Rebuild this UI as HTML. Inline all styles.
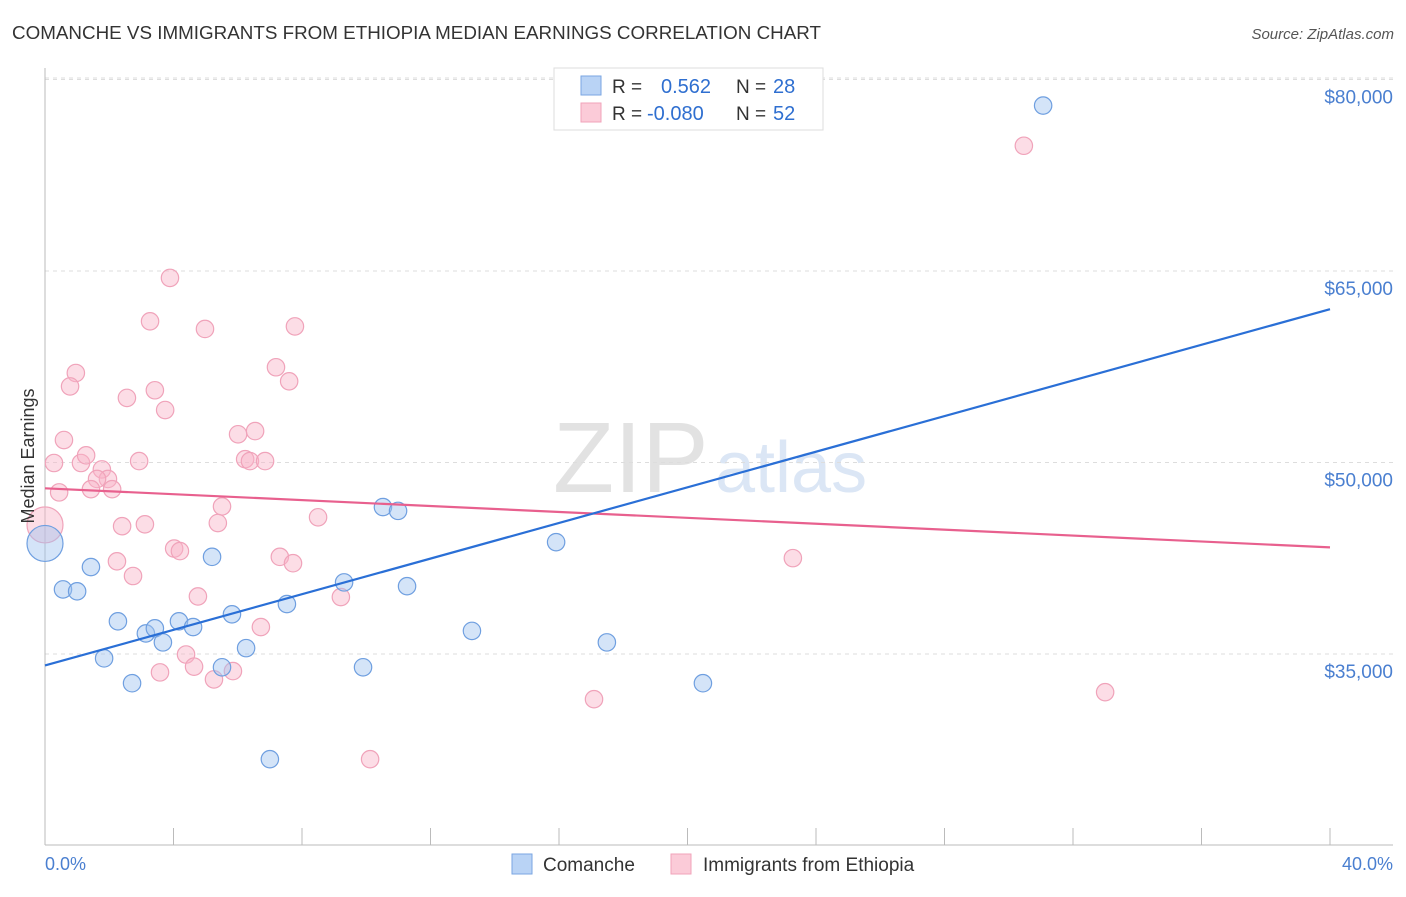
<!DOCTYPE html>
<html><head><meta charset="utf-8"><style>
body{margin:0;background:#fff;font-family:"Liberation Sans",sans-serif;}
svg text{font-family:"Liberation Sans",sans-serif;}
</style></head><body>
<svg id="chart" width="1406" height="892" xmlns="http://www.w3.org/2000/svg">
<text x="12" y="39" font-size="18" fill="#333" textLength="809" lengthAdjust="spacingAndGlyphs">COMANCHE VS IMMIGRANTS FROM ETHIOPIA MEDIAN EARNINGS CORRELATION CHART</text>
<text x="1394" y="39" font-size="15" fill="#555" font-style="italic" text-anchor="end">Source: ZipAtlas.com</text>
<g>
<text x="553" y="492" font-size="100" fill="#e2e2e2" font-family="Liberation Serif">ZIP</text>
<text x="715" y="492" font-size="72" fill="#dbe6f5">atlas</text>
</g>
<g id="grid"></g>
<g id="axes"></g>
<g id="marks"></g>
<text transform="translate(34,456) rotate(-90)" font-size="18" fill="#333" text-anchor="middle">Median Earnings</text>
<g>
<rect x="554" y="68" width="269" height="62" fill="#fff" stroke="#ddd"/>
<rect x="581" y="76" width="20" height="19" fill="#b9d3f5" stroke="#7aa6e2"/>
<rect x="581" y="103" width="20" height="19" fill="#fbcbd8" stroke="#f0a3ba"/>
<text x="612" y="93" font-size="19" fill="#333">R =</text>
<text x="661" y="93" font-size="20" fill="#2f6fd0">0.562</text>
<text x="736" y="93" font-size="19" fill="#333">N =</text>
<text x="773" y="93" font-size="20" fill="#2f6fd0">28</text>
<text x="612" y="120" font-size="19" fill="#333">R =</text>
<text x="647" y="120" font-size="20" fill="#2f6fd0">-0.080</text>
<text x="736" y="120" font-size="19" fill="#333">N =</text>
<text x="773" y="120" font-size="20" fill="#2f6fd0">52</text>
</g>
<g>
<rect x="512" y="854" width="20" height="20" fill="#b9d3f5" stroke="#7aa6e2"/>
<text x="543" y="871" font-size="19" fill="#333">Comanche</text>
<rect x="671" y="854" width="20" height="20" fill="#fbcbd8" stroke="#f0a3ba"/>
<text x="703" y="871" font-size="19" fill="#333">Immigrants from Ethiopia</text>
</g>
<text x="45" y="870" font-size="18" fill="#4a7fd0">0.0%</text>
<text x="1393" y="870" font-size="18" fill="#4a7fd0" text-anchor="end">40.0%</text>
</svg>
<script>
const yTicks=[80000,65000,50000,35000];
const yTickLabels=["$80,000","$65,000","$50,000","$35,000"];
const xTicks=[0,4,8,12,16,20,24,28,32,36,40];
const blueX=[31.07,0,0.56,1.0,1.43,2.27,1.84,2.71,3.14,3.42,3.67,4.17,4.61,5.2,5.51,5.82,6.26,7.53,7.0,9.31,9.9,10.52,10.99,11.27,13.29,15.91,17.49,20.48];
const blueY=[77960,43660,40060,39910,41810,37560,34660,32710,36610,37010,35910,37560,37110,42610,33960,38110,35460,38910,26760,40610,33960,46510,46210,40310,36810,43760,35910,32710];
const pinkX=[3.89,3.27,4.98,7.78,7.19,7.6,0.96,0.78,2.55,3.42,3.74,0.59,0.28,1.12,1.28,1.77,2.93,6.01,6.54,6.23,6.38,6.85,1.96,1.62,1.43,2.09,0.44,0,2.4,3.11,5.51,5.38,8.5,4.02,4.2,2.24,2.74,7.31,7.72,4.76,9.21,6.72,4.39,4.64,5.26,3.58,5.85,10.12,23.28,17.09,30.47,33.0];
const pinkY=[64460,61060,60460,60660,57460,56360,57010,55960,55060,55660,54110,51760,49960,49960,50560,49460,50110,52210,52460,50260,50110,50110,48710,48710,47910,47910,47660,45110,45010,45160,46560,45260,45710,43260,43060,42260,41110,42610,42110,39510,39460,37110,34960,34010,33010,33560,33660,26760,42510,31460,74810,32010];
const blueSize=[1,2,1,1,1,1,1,1,1,1,1,1,1,1,1,1,1,1,1,1,1,1,1,1,1,1,1,1];
const pinkSize=[1,1,1,1,1,1,1,1,1,1,1,1,1,1,1,1,1,1,1,1,1,1,1,1,1,1,1,2,1,1,1,1,1,1,1,1,1,1,1,1,1,1,1,1,1,1,1,1,1,1,1,1];
const blueTrend=[34100,62010];
const pinkTrend=[47980,43350];
const trendX=[0,40];

const X0=45,X1=1330,Y80=79.5,PX=191.5/15000;
function xs(v){return X0+(v/40)*(X1-X0);}
function ys(v){return Y80+(80000-v)*PX;}
const NS="http://www.w3.org/2000/svg";
function mk(tag,attrs,parent){const e=document.createElementNS(NS,tag);for(const k in attrs)e.setAttribute(k,attrs[k]);parent.appendChild(e);return e;}
const grid=document.getElementById('grid'),axes=document.getElementById('axes'),marks=document.getElementById('marks');
let g=mk('line',{x1:45,x2:1393,y1:78,y2:78,stroke:'#ddd','stroke-dasharray':'4,4'},grid);


yTicks.forEach((t,i)=>{
  const l=mk('line',{x1:45,x2:1393,y1:ys(t),y2:ys(t),stroke:'#ddd','stroke-dasharray':'4,4'},grid);
  
  
  const tx=mk('text',{x:1393,y:ys(t)+24,'font-size':19,fill:'#4a7fd0','text-anchor':'end'},axes);
  tx.textContent=yTickLabels[i];
  
  
});
let a=mk('line',{x1:45,x2:45,y1:68,y2:845,stroke:'#bbb'},axes);


a=mk('line',{x1:45,x2:1393,y1:845,y2:845,stroke:'#bbb'},axes);


xTicks.forEach(t=>{
  const l=mk('line',{x1:xs(t),x2:xs(t),y1:828,y2:845,stroke:'#bbb'},axes);
  
  
});
function pts(xa,ya,sa,fill,stroke,name){
  xa.forEach((v,i)=>{
    const c=mk('circle',{cx:xs(v),cy:ys(ya[i]),r:sa[i]>1?18:8.7,fill:fill,stroke:stroke,'stroke-width':1.2},marks);
    
    
  });
}
pts(pinkX,pinkY,pinkSize,'rgba(248,180,200,0.45)','#f0a3ba','ethiopia-point');
pts(blueX,blueY,blueSize,'rgba(160,196,240,0.45)','#6f9fe0','comanche-point');
let t=mk('line',{x1:xs(trendX[0]),x2:xs(trendX[1]),y1:ys(pinkTrend[0]),y2:ys(pinkTrend[1]),stroke:'#e8608e','stroke-width':2.2},marks);


t=mk('line',{x1:xs(trendX[0]),x2:xs(trendX[1]),y1:ys(blueTrend[0]),y2:ys(blueTrend[1]),stroke:'#2a6fd6','stroke-width':2.2},marks);


</script>
</body></html>
